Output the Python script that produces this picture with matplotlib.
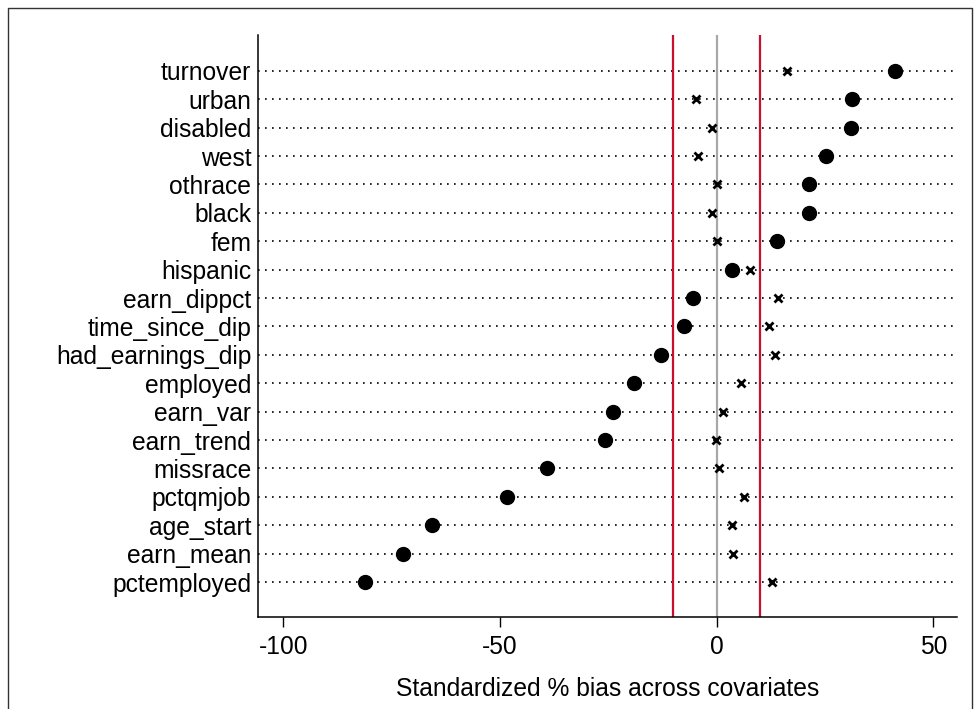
import matplotlib
matplotlib.use("Agg")
import matplotlib.pyplot as plt
from matplotlib.lines import Line2D

plt.rcParams['font.family'] = ['Liberation Sans', 'DejaVu Sans']

covariates = ["turnover", "urban", "disabled", "west", "othrace", "black", "fem",
              "hispanic", "earn_dippct", "time_since_dip", "had_earnings_dip",
              "employed", "earn_var", "earn_trend", "missrace", "pctqmjob",
              "age_start", "earn_mean", "pctemployed"]
unmatched = [41.1, 31.1, 31.0, 25.2, 21.2, 21.2, 14.0, 3.5, -5.4, -7.6, -12.9,
             -19.1, -24.0, -25.9, -39.1, -48.5, -65.7, -72.4, -81.1]
matched = [16.1, -4.8, -1.2, -4.4, 0.0, -1.0, 0.1, 7.7, 14.2, 12.1, 13.4,
           5.6, 1.4, -0.1, 0.4, 6.2, 3.4, 3.7, 12.8]
xticks = [-100, -50, 0, 50]
thresholds = [-10, 10]

W, H = 974, 709
FS = 17.7
fig = plt.figure(figsize=(W / 100, H / 100), dpi=100)
ax = fig.add_axes([258.3 / W, 1 - 617.3 / H, (957.3 - 258.3) / W, (617.3 - 35) / H])

n = len(covariates)
ypos = [n - i for i in range(n)]

for y in ypos:
    ax.axhline(y, color='black', linestyle=(0, (1, 3.2)), linewidth=1.2, zorder=1)

for t in thresholds:
    ax.axvline(t, color='#C8102E', linewidth=1.6, zorder=2)
ax.axvline(0, color='#A8A8A8', linewidth=1.6, zorder=2)

ax.plot(unmatched, ypos, linestyle='none', marker='o', markersize=10,
        color='black', zorder=4)
ax.plot(matched, ypos, linestyle='none', marker='x', markersize=6,
        markeredgewidth=2, color='black', zorder=4)

ax.set_xlim(-105.8, 55.5)
ax.set_ylim(-0.24, n + 1.26)
ax.set_yticks(ypos)
ax.set_yticklabels(covariates, fontsize=FS)
ax.tick_params(axis='y', length=0, pad=5)
ax.set_xticks(xticks)
ax.set_xticklabels([str(v) for v in xticks], fontsize=FS)
ax.tick_params(axis='x', length=7, width=1, pad=6)
ax.set_xlabel("Standardized % bias across covariates", fontsize=FS, labelpad=13)

for s in ['top', 'right']:
    ax.spines[s].set_visible(False)
for s in ['left', 'bottom']:
    ax.spines[s].set_linewidth(1.1)

# outer frame
frame_x = [8 / W, 8 / W, 972 / W, 972 / W]
frame_y = [0, 1 - 8 / H, 1 - 8 / H, 0]
fig.add_artist(Line2D(frame_x, frame_y, transform=fig.transFigure,
                      color='#333333', linewidth=1))

fig.savefig("out.png", dpi=100)
